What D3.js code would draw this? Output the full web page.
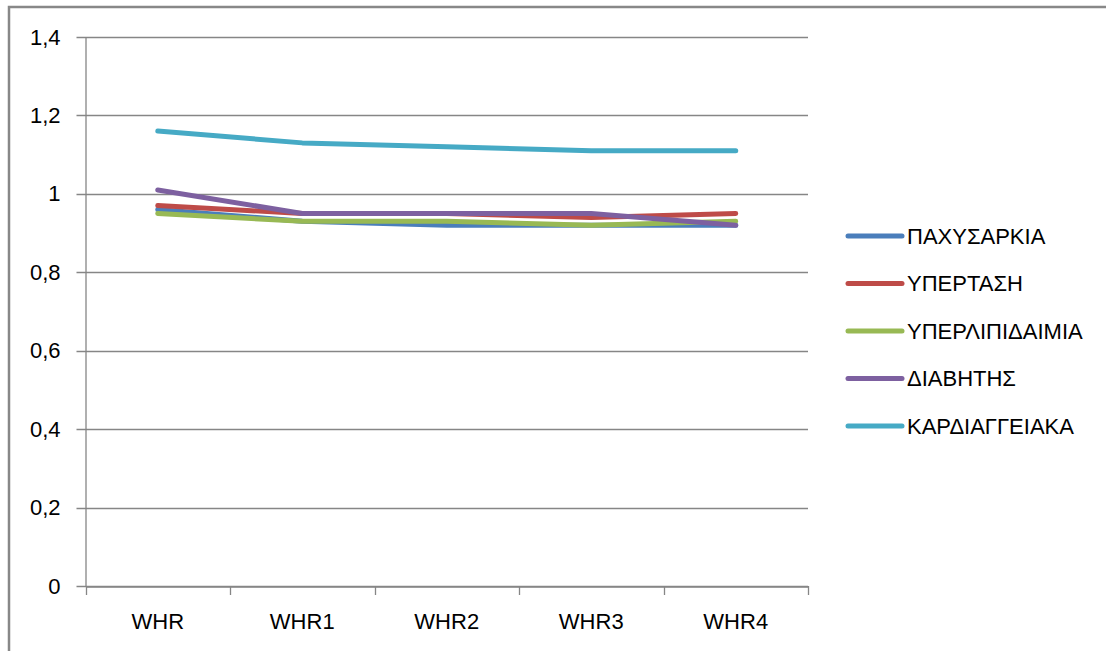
<!DOCTYPE html>
<html>
<head>
<meta charset="utf-8">
<script src="https://cdn.jsdelivr.net/npm/d3@7"></script>
<style>
  html, body { margin: 0; padding: 0; background: #fff; }
  svg { display: block; }
  text { font-family: "Liberation Sans Narrow", "Liberation Sans", Arial, sans-serif; fill: #000; }
</style>
</head>
<body>
<svg id="chart" width="1106" height="651"></svg>
<script>
// Waist-to-hip ratio measurements
const categories = ["WHR", "WHR1", "WHR2", "WHR3", "WHR4"];
const seriesNames = ["ΠΑΧΥΣΑΡΚΙΑ", "ΥΠΕΡΤΑΣΗ", "ΥΠΕΡΛΙΠΙΔΑΙΜΙΑ", "ΔΙΑΒΗΤΗΣ", "ΚΑΡΔΙΑΓΓΕΙΑΚΑ"];
const pachysarkia = [0.96, 0.93, 0.92, 0.92, 0.92];
const ypertasi = [0.97, 0.95, 0.95, 0.94, 0.95];
const yperlipidaimia = [0.95, 0.93, 0.93, 0.92, 0.93];
const diavitis = [1.01, 0.95, 0.95, 0.95, 0.92];
const kardiaggeiaka = [1.16, 1.13, 1.12, 1.11, 1.11];
const yTicks = [0, 0.2, 0.4, 0.6, 0.8, 1, 1.2, 1.4];
const colors = ["#4a7ebb", "#be4b48", "#98b954", "#7d60a0", "#46aac5"];

const seriesValues = [pachysarkia, ypertasi, yperlipidaimia, diavitis, kardiaggeiaka];
const series = seriesNames.map((name, i) => ({ name, values: seriesValues[i], color: colors[i] }));

const svg = d3.select("#chart");
const gridColor = "#868686";
const fontSize = 22;

// chart frame
svg.append("rect")
  .attr("x", 9).attr("y", 7)
  .attr("width", 1110).attr("height", 660)
  .attr("fill", "none")
  .attr("stroke", "#888")
  .attr("stroke-width", 2.5);

const plot = { left: 85.5, right: 808, top: 37, bottom: 586 };

const x = d3.scaleBand().domain(categories).range([plot.left, plot.right]);
const y = d3.scaleLinear().domain([0, 1.4]).range([plot.bottom, plot.top]);

const fmt = d => String(d).replace(".", ",");

// horizontal gridlines
svg.append("g")
  .selectAll("line")
  .data(yTicks)
  .join("line")
  .attr("x1", plot.left - 9).attr("x2", plot.right)
  .attr("y1", d => Math.round(y(d)) + 0.5).attr("y2", d => Math.round(y(d)) + 0.5)
  .attr("stroke", gridColor).attr("stroke-width", 1.3);

// y axis
const yAxis = svg.append("g")
  .attr("transform", `translate(${plot.left},0)`)
  .call(d3.axisLeft(y).tickValues(yTicks).tickFormat(fmt).tickSize(0).tickPadding(25));
yAxis.select(".domain").attr("stroke", gridColor).attr("stroke-width", 1.3);
yAxis.selectAll("text").attr("font-size", fontSize).style("font-family", null);

// x axis
const xAxis = svg.append("g")
  .attr("transform", `translate(0,${Math.round(plot.bottom) + 0.5})`)
  .call(d3.axisBottom(x).tickSize(0).tickPadding(27));
xAxis.select(".domain").attr("stroke", gridColor).attr("stroke-width", 1.3);
xAxis.selectAll("text").attr("font-size", fontSize).style("font-family", null);

// category separators below the x axis
const bounds = categories.map(c => x(c)).concat([plot.right]);
svg.append("g")
  .selectAll("line")
  .data(bounds)
  .join("line")
  .attr("x1", d => Math.round(d) + 0.5).attr("x2", d => Math.round(d) + 0.5)
  .attr("y1", plot.bottom).attr("y2", plot.bottom + 9)
  .attr("stroke", gridColor).attr("stroke-width", 1.3);

// series lines
const line = d3.line()
  .x((d, i) => x(categories[i]) + x.bandwidth() / 2)
  .y(d => y(d));

svg.append("g")
  .selectAll("path")
  .data(series)
  .join("path")
  .attr("d", d => line(d.values))
  .attr("fill", "none")
  .attr("stroke", d => d.color)
  .attr("stroke-width", 5)
  .attr("stroke-linecap", "round")
  .attr("stroke-linejoin", "round");

// legend
const legend = svg.append("g").attr("transform", "translate(848,236)");
const rows = legend.selectAll("g")
  .data(series)
  .join("g")
  .attr("transform", (d, i) => `translate(0,${i * 47.5})`);
rows.append("line")
  .attr("x1", 0).attr("x2", 54)
  .attr("stroke", d => d.color)
  .attr("stroke-width", 5)
  .attr("stroke-linecap", "round");
rows.append("text")
  .attr("x", 59).attr("dy", "0.36em")
  .attr("font-size", fontSize)
  .text(d => d.name);
</script>
</body>
</html>
